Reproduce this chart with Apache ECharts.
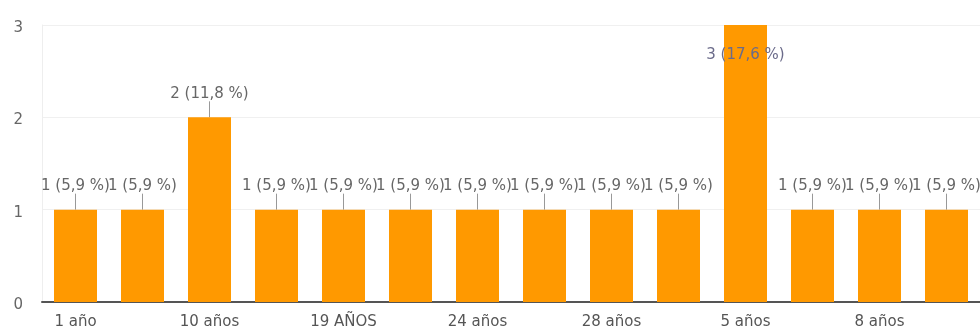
<!DOCTYPE html>
<html>
<head>
<meta charset="utf-8">
<script src="https://cdn.jsdelivr.net/npm/echarts@6/dist/echarts.min.js"></script>
<style>
  html, body { margin: 0; padding: 0; background: #fff; }
  #chart { width: 980px; height: 330px; }
</style>
</head>
<body>
<div id="chart"></div>
<script>
  // categorias (respuestas) y cantidad de cada una
  var categories = ['1 año', '1 años', '10 años', '15 años', '19 AÑOS', '2 años', '24 años',
                    '25 años', '28 años', '3 años', '5 años', '6 años', '8 años', '9 años'];
  var counts = [1, 1, 2, 1, 1, 1, 1, 1, 1, 1, 3, 1, 1, 1];
  var yTicks = [0, 1, 2, 3];

  var total = 0;
  for (var i = 0; i < counts.length; i++) total += counts[i];

  // etiqueta "n (x,x %)"
  function fmt(p) {
    var pct = (p.value / total * 100).toFixed(1).replace('.', ',');
    return p.value + ' (' + pct + ' %)';
  }

  var data = [];
  for (var i = 0; i < counts.length; i++) {
    var item = { value: counts[i] };
    if (counts[i] == yTicks[yTicks.length - 1]) {
      // la barra llega al tope: etiqueta dentro
      item.label = { position: 'insideTop', distance: 23, color: '#6b6b8a' };
      item.labelLine = { show: false };
    }
    data.push(item);
  }

  var option = {
    animation: false,
    textStyle: { fontFamily: 'DejaVu Sans, sans-serif' },
    grid: { left: 42, right: 0, top: 25, bottom: 28 },
    xAxis: {
      type: 'category',
      data: categories,
      axisTick: { show: false },
      axisLine: { lineStyle: { color: '#555', width: 2 } },
      axisLabel: { interval: 1, color: '#555', fontSize: 15, margin: 13 }
    },
    yAxis: {
      type: 'value',
      min: 0,
      max: 3,
      interval: 1,
      axisLine: { show: true, lineStyle: { color: '#eee', width: 1 } },
      axisTick: { show: false },
      axisLabel: { color: '#666', fontSize: 15, margin: 19, verticalAlign: 'top', lineHeight: 6 },
      splitLine: { lineStyle: { color: '#f0f0f0' } }
    },
    series: [{
      type: 'bar',
      data: data,
      barWidth: 43,
      itemStyle: { color: '#ff9900' },
      label: {
        show: true,
        position: 'top',
        distance: 0,
        color: '#666',
        fontSize: 15,
        formatter: fmt
      },
      labelLayout: function (p) {
        if (counts[p.dataIndex] == yTicks[yTicks.length - 1]) return {};
        return { dy: -16 };
      },
      labelLine: { show: true, lineStyle: { color: '#999', width: 1 } }
    }]
  };

  echarts.init(document.getElementById('chart')).setOption(option);
</script>
</body>
</html>
